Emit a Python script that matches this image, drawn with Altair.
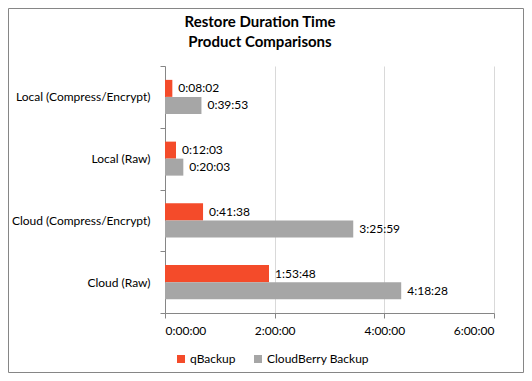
import altair as alt
import pandas as pd

title_lines = ["Restore Duration Time", "Product Comparisons"]
categories = ["Local (Compress/Encrypt)", "Local (Raw)", "Cloud (Compress/Encrypt)", "Cloud (Raw)"]
series = ["qBackup", "CloudBerry Backup"]
qbackup_times = ["0:08:02", "0:12:03", "0:41:38", "1:53:48"]
cloudberry_times = ["0:39:53", "0:20:03", "3:25:59", "4:18:28"]
x_ticks = [0, 7200, 14400, 21600]
colors = ["#F44B2A", "#A6A6A6"]


def to_seconds(s):
    h, m, sec = (int(p) for p in s.split(":"))
    return h * 3600 + m * 60 + sec


rows = []
for cat, q, c in zip(categories, qbackup_times, cloudberry_times):
    rows.append({"category": cat, "series": series[0], "label": q, "seconds": to_seconds(q)})
    rows.append({"category": cat, "series": series[1], "label": c, "seconds": to_seconds(c)})
df = pd.DataFrame(rows)

FONT = "Lato"
FS = 12
W, H = 329, 247
PL, PT, PR, PB = 157, 58, 30, 60

label_expr = (
    "floor(datum.value/3600) + ':' + "
    "(floor((datum.value%3600)/60) < 10 ? '0' : '') + floor((datum.value%3600)/60) + ':' + "
    "(datum.value%60 < 10 ? '0' : '') + (datum.value%60)"
)

x_enc = alt.X(
    "seconds:Q",
    scale=alt.Scale(domain=[0, 21600], nice=False),
    axis=alt.Axis(
        values=x_ticks,
        labelExpr=label_expr,
        title=None,
        grid=True,
        gridColor="#D9D9D9",
        domainColor="#868686",
        tickColor="#868686",
        tickSize=5,
        labelPadding=7,
        labelFont=FONT,
        labelFontSize=FS,
        labelColor="#000000",
    ),
)
y_enc = alt.Y(
    "category:N",
    sort=categories,
    scale=alt.Scale(padding=0),
    axis=alt.Axis(
        title=None,
        tickBand="extent",
        domainColor="#868686",
        tickColor="#868686",
        tickSize=5,
        labelPadding=10,
        labelFont=FONT,
        labelFontSize=FS,
        labelColor="#000000",
    ),
)
yoff = alt.YOffset("series:N", sort=series, scale=alt.Scale(paddingInner=0, paddingOuter=0.816))

base = alt.Chart(df)

bars = base.mark_bar().encode(
    x=x_enc,
    y=y_enc,
    yOffset=yoff,
    color=alt.Color(
        "series:N",
        sort=series,
        scale=alt.Scale(domain=series, range=colors),
        legend=alt.Legend(
            title=None,
            orient="none",
            direction="horizontal",
            legendX=10,
            legendY=287,
            symbolType="square",
            symbolSize=64,
            symbolStrokeWidth=0,
            labelFont=FONT,
            labelFontSize=FS,
            labelColor="#000000",
            labelOffset=3,
            columnPadding=16,
            padding=0,
        ),
    ),
)

texts = base.mark_text(align="left", baseline="middle", dx=6, font=FONT, fontSize=FS, color="#000000").encode(
    x="seconds:Q",
    y=alt.Y("category:N", sort=categories),
    yOffset=yoff,
    text="label:N",
)

title1 = alt.Chart(alt.Data(values=[{"t": title_lines[0]}])).mark_text(
    font=FONT, fontSize=15, fontWeight="bold", color="#000000", align="center", baseline="alphabetic"
).encode(text="t:N", x=alt.value(95), y=alt.value(-39))
title2 = alt.Chart(alt.Data(values=[{"t": title_lines[1]}])).mark_text(
    font=FONT, fontSize=15, fontWeight="bold", color="#000000", align="center", baseline="alphabetic"
).encode(text="t:N", x=alt.value(95), y=alt.value(-19))

border = alt.Chart(alt.Data(values=[{}])).mark_rect(fill=None, stroke="#868686", strokeWidth=1).encode(
    x=alt.value(-PL + 0.5),
    x2=alt.value(W + PR - 0.5),
    y=alt.value(-PT + 0.5),
    y2=alt.value(H + PB - 0.5),
)

chart = alt.layer(bars, texts, title1, title2, border).properties(
    width=W,
    height=H,
    padding={"left": PL, "top": PT, "right": PR, "bottom": PB},
    autosize=alt.AutoSizeParams(type="none"),
).configure_view(stroke=None)

chart.save("out.html", embed_options={"renderer": "svg", "actions": False})
